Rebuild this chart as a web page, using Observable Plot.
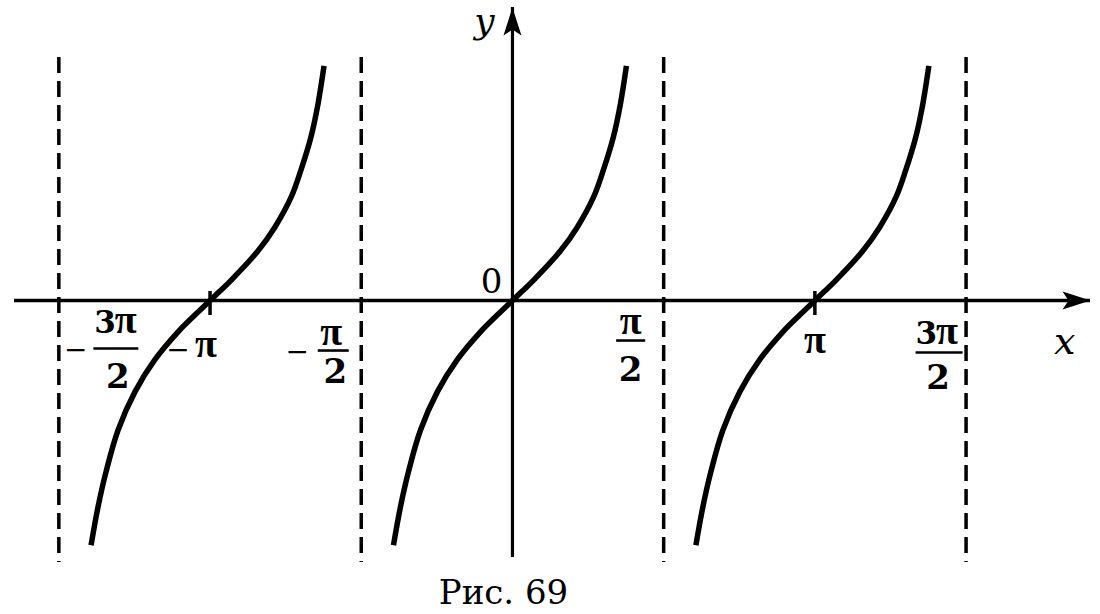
<!DOCTYPE html>
<html><head><meta charset="utf-8">
<script src="https://cdn.jsdelivr.net/npm/d3@7"></script>
<script src="https://cdn.jsdelivr.net/npm/@observablehq/plot@0.6"></script>
<style>
body{margin:0;background:#fff;}
#chart svg{display:block;}
#caption{width:1007px;height:44px;line-height:44px;text-align:center;font-family:"DejaVu Serif",serif;font-size:34px;color:#000;}
</style></head><body>
<div id="chart"></div>
<div id="caption">Рис. 69</div>
<script>
// ---- data ----
// one branch of y = tg x: offsets (radians) from the branch centre, and the heights
const branchX = [-1.236, -1.163, -1.08, -0.956, -0.779, -0.571, -0.332, -0.15, 0, 0.1, 0.218, 0.499, 0.675, 0.841, 0.945, 1.049, 1.122, 1.184];
const branchY = [-2.66, -2.24, -1.86, -1.41, -0.99, -0.64, -0.34, -0.15, 0, 0.1, 0.22, 0.54, 0.8, 1.12, 1.42, 1.78, 2.14, 2.55];
const branchCenters = [-3.1416, 0, 3.1416];
const asymptotes = [-4.7124, -1.5708, 1.5708, 4.7124];
const tickMarks = [-3.1416, 3.1416];
const labelX = [-4.7124, -3.1416, -1.5708, 1.5708, 3.1416, 4.7124];
const labelSign = ["−", "−", "−", "", "", ""];
const labelNum = ["3π", "π", "π", "π", "π", "3π"];
const labelDen = ["2", "", "2", "2", "", "2"];
const originLabel = "0";
const xName = "x";
const yName = "y";

// ---- layout (pixel offsets of label parts from their tick) ----
const layout = [
  {sign: [17, 58], num: [58, 32], bar: [57, 48, 45], den: [59, 87]},
  {sign: [-32, 58], num: [-4, 56]},
  {sign: [-64, 60], num: [-30, 44], bar: [-28, 50, 31], den: [-26, 82]},
  {num: [-33, 33], bar: [-33, 40, 29], den: [-33, 80]},
  {num: [0, 52]},
  {num: [-28, 43], bar: [-27, 52, 47], den: [-28, 88]}
];

const branches = branchCenters.flatMap((c, b) =>
  branchX.map((x, i) => ({branch: b, x: c + x, y: branchY[i]})));

const arrowHead = {draw(ctx) { ctx.moveTo(0, 0); ctx.lineTo(9, 28); ctx.lineTo(0, 22); ctx.lineTo(-9, 28); ctx.closePath(); }};
const barSymbol = w => ({draw(ctx) { ctx.rect(-w / 2, -1.3, w, 2.6); }});

const font = "DejaVu Serif";
const piFont = "Liberation Serif";
const labelMarks = [];
labelX.forEach((x, i) => {
  const L = layout[i];
  const pos = {x: d => d, y: 0, fill: "black"};
  if (labelSign[i]) labelMarks.push(Plot.text([x], {...pos, text: () => labelSign[i], dx: L.sign[0], dy: L.sign[1], lineAnchor: "bottom", fontFamily: font, fontSize: 28}));
  const coef = labelNum[i].slice(0, -1);
  const sym = labelNum[i].slice(-1);
  if (coef) {
    labelMarks.push(Plot.text([x], {...pos, text: () => coef, dx: L.num[0] - 1, dy: L.num[1], textAnchor: "end", lineAnchor: "bottom", fontFamily: font, fontWeight: "bold", fontSize: 31}));
    labelMarks.push(Plot.text([x], {...pos, text: () => sym, dx: L.num[0] - 2, dy: L.num[1], textAnchor: "start", lineAnchor: "bottom", fontFamily: piFont, fontWeight: "bold", fontSize: 40}));
  } else {
    labelMarks.push(Plot.text([x], {...pos, text: () => sym, dx: L.num[0], dy: L.num[1], lineAnchor: "bottom", fontFamily: piFont, fontWeight: "bold", fontSize: 40}));
  }
  if (labelDen[i]) {
    labelMarks.push(Plot.dot([x], {...pos, symbol: barSymbol(L.bar[2]), dx: L.bar[0], dy: L.bar[1], stroke: "none"}));
    labelMarks.push(Plot.text([x], {...pos, text: () => labelDen[i], dx: L.den[0], dy: L.den[1], lineAnchor: "bottom", fontFamily: font, fontWeight: "bold", fontSize: 34}));
  }
});

const chart = Plot.plot({
  width: 1100,
  height: 570,
  marginLeft: 14,
  marginRight: 10,
  marginTop: 7,
  marginBottom: 13,
  x: {domain: [-5.173, 6.005], axis: null},
  y: {domain: [-2.793, 3.185], axis: null},
  marks: [
    Plot.ruleX(asymptotes, {stroke: "black", strokeWidth: 3.5, strokeDasharray: "16,8", insetTop: 50, insetBottom: -5}),
    Plot.ruleY([0], {stroke: "black", strokeWidth: 3.5}),
    Plot.ruleX([0], {stroke: "black", strokeWidth: 3.2}),
    Plot.ruleX(tickMarks, {stroke: "black", strokeWidth: 3.5, insetTop: 284, insetBottom: 242}),
    Plot.dot([0], {y: d => d, frameAnchor: "right", symbol: arrowHead, rotate: 90, fill: "black", stroke: "none"}),
    Plot.dot([0], {x: d => d, frameAnchor: "top", symbol: arrowHead, fill: "black", stroke: "none"}),
    Plot.line(branches, {x: "x", y: "y", z: "branch", stroke: "black", strokeWidth: 5.5, curve: "catmull-rom", strokeLinecap: "butt"}),
    ...labelMarks,
    Plot.text([0], {x: d => d, y: d => d, text: () => originLabel, dx: -21, dy: -8, lineAnchor: "bottom", fontFamily: font, fontSize: 34, fill: "black"}),
    Plot.text([0], {x: d => d, frameAnchor: "top", text: () => yName, dx: -28, dy: 25, lineAnchor: "bottom", fontFamily: font, fontStyle: "italic", fontSize: 36, fill: "black"}),
    Plot.text([0], {y: d => d, frameAnchor: "right", text: () => xName, dx: -15, dy: 53, lineAnchor: "bottom", fontFamily: font, fontStyle: "italic", fontSize: 38, fill: "black"})
  ]
});
document.getElementById("chart").appendChild(chart);
</script>
</body></html>
